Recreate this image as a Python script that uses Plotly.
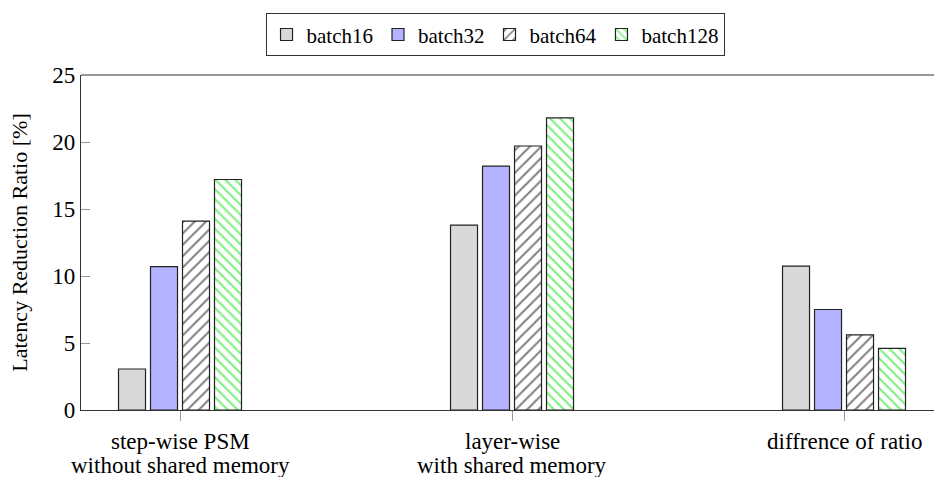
import plotly.graph_objects as go

# Categories and latency reduction ratios (%) for each batch size
category_lines = [["step-wise PSM", "without shared memory"],
                  ["layer-wise", "with shared memory"],
                  ["diffrence of ratio"]]
series_names = ["batch16", "batch32", "batch64", "batch128"]
batch16 = [3.06, 13.8, 10.74]
batch32 = [10.7, 18.2, 7.5]
batch64 = [14.1, 19.7, 5.6]
batch128 = [17.2, 21.8, 4.6]
y_ticks = [0, 5, 10, 15, 20, 25]

x_pos = list(range(len(category_lines)))
FONT = "Liberation Serif"

styles = [
    dict(color="#d9d9d9"),
    dict(color="#b3b3ff"),
    dict(color="white", pattern=dict(shape="/", fgcolor="black", bgcolor="white",
                                      size=8, solidity=0.25, fillmode="overlay")),
    dict(color="white", pattern=dict(shape="\\", fgcolor="#00e000", bgcolor="white",
                                      size=7, solidity=0.3, fillmode="overlay")),
]

fig = go.Figure()
for name, vals, st in zip(series_names, [batch16, batch32, batch64, batch128], styles):
    marker = dict(line=dict(color="#222222", width=1.2), **st)
    fig.add_trace(go.Bar(x=x_pos, y=vals, name=name, marker=marker))

# Category labels below the axis, one annotation per text line
annotations = []
for xi, lines in zip(x_pos, category_lines):
    for li, line in enumerate(lines):
        annotations.append(dict(
            x=xi, xref="x", y=0, yref="paper", text=line, showarrow=False,
            xanchor="center", yanchor="top", yshift=-17 - 24 * li,
            font=dict(family=FONT, size=23, color="black")))

fig.update_layout(
    width=934, height=477,
    margin=dict(l=81, r=0, t=75, b=67),
    paper_bgcolor="white", plot_bgcolor="white",
    barmode="group", bargap=0.6145, bargroupgap=0.156,
    font=dict(family=FONT, size=22, color="black"),
    showlegend=True,
    legend=dict(orientation="h", xref="container", yref="container",
                x=0.53, xanchor="center", y=0.972, yanchor="top",
                bordercolor="#333333", borderwidth=1,
                font=dict(family=FONT, size=21), itemwidth=30,
                traceorder="normal"),
    xaxis=dict(range=[-0.2982, 2.271], tickmode="array", tickvals=x_pos,
               showticklabels=False, showline=True, linecolor="#333333", linewidth=1.2,
               ticks="outside", ticklen=10, tickcolor="#999999", showgrid=False,
               zeroline=False, automargin=False),
    yaxis=dict(range=[0, 25], tickvals=y_ticks, showline=True, linecolor="#333333",
               linewidth=1.2, ticks="inside", ticklen=9, tickcolor="#999999",
               showgrid=False, zeroline=False, tickfont=dict(size=23), automargin=False,
               title=dict(text="Latency Reduction Ratio [%]", font=dict(size=22),
                          standoff=18)),
    annotations=annotations,
    shapes=[dict(type="line", xref="paper", yref="paper", x0=0, x1=1, y0=1, y1=1,
                 line=dict(color="#333333", width=1.2))],
)

fig.write_html("out.html")
